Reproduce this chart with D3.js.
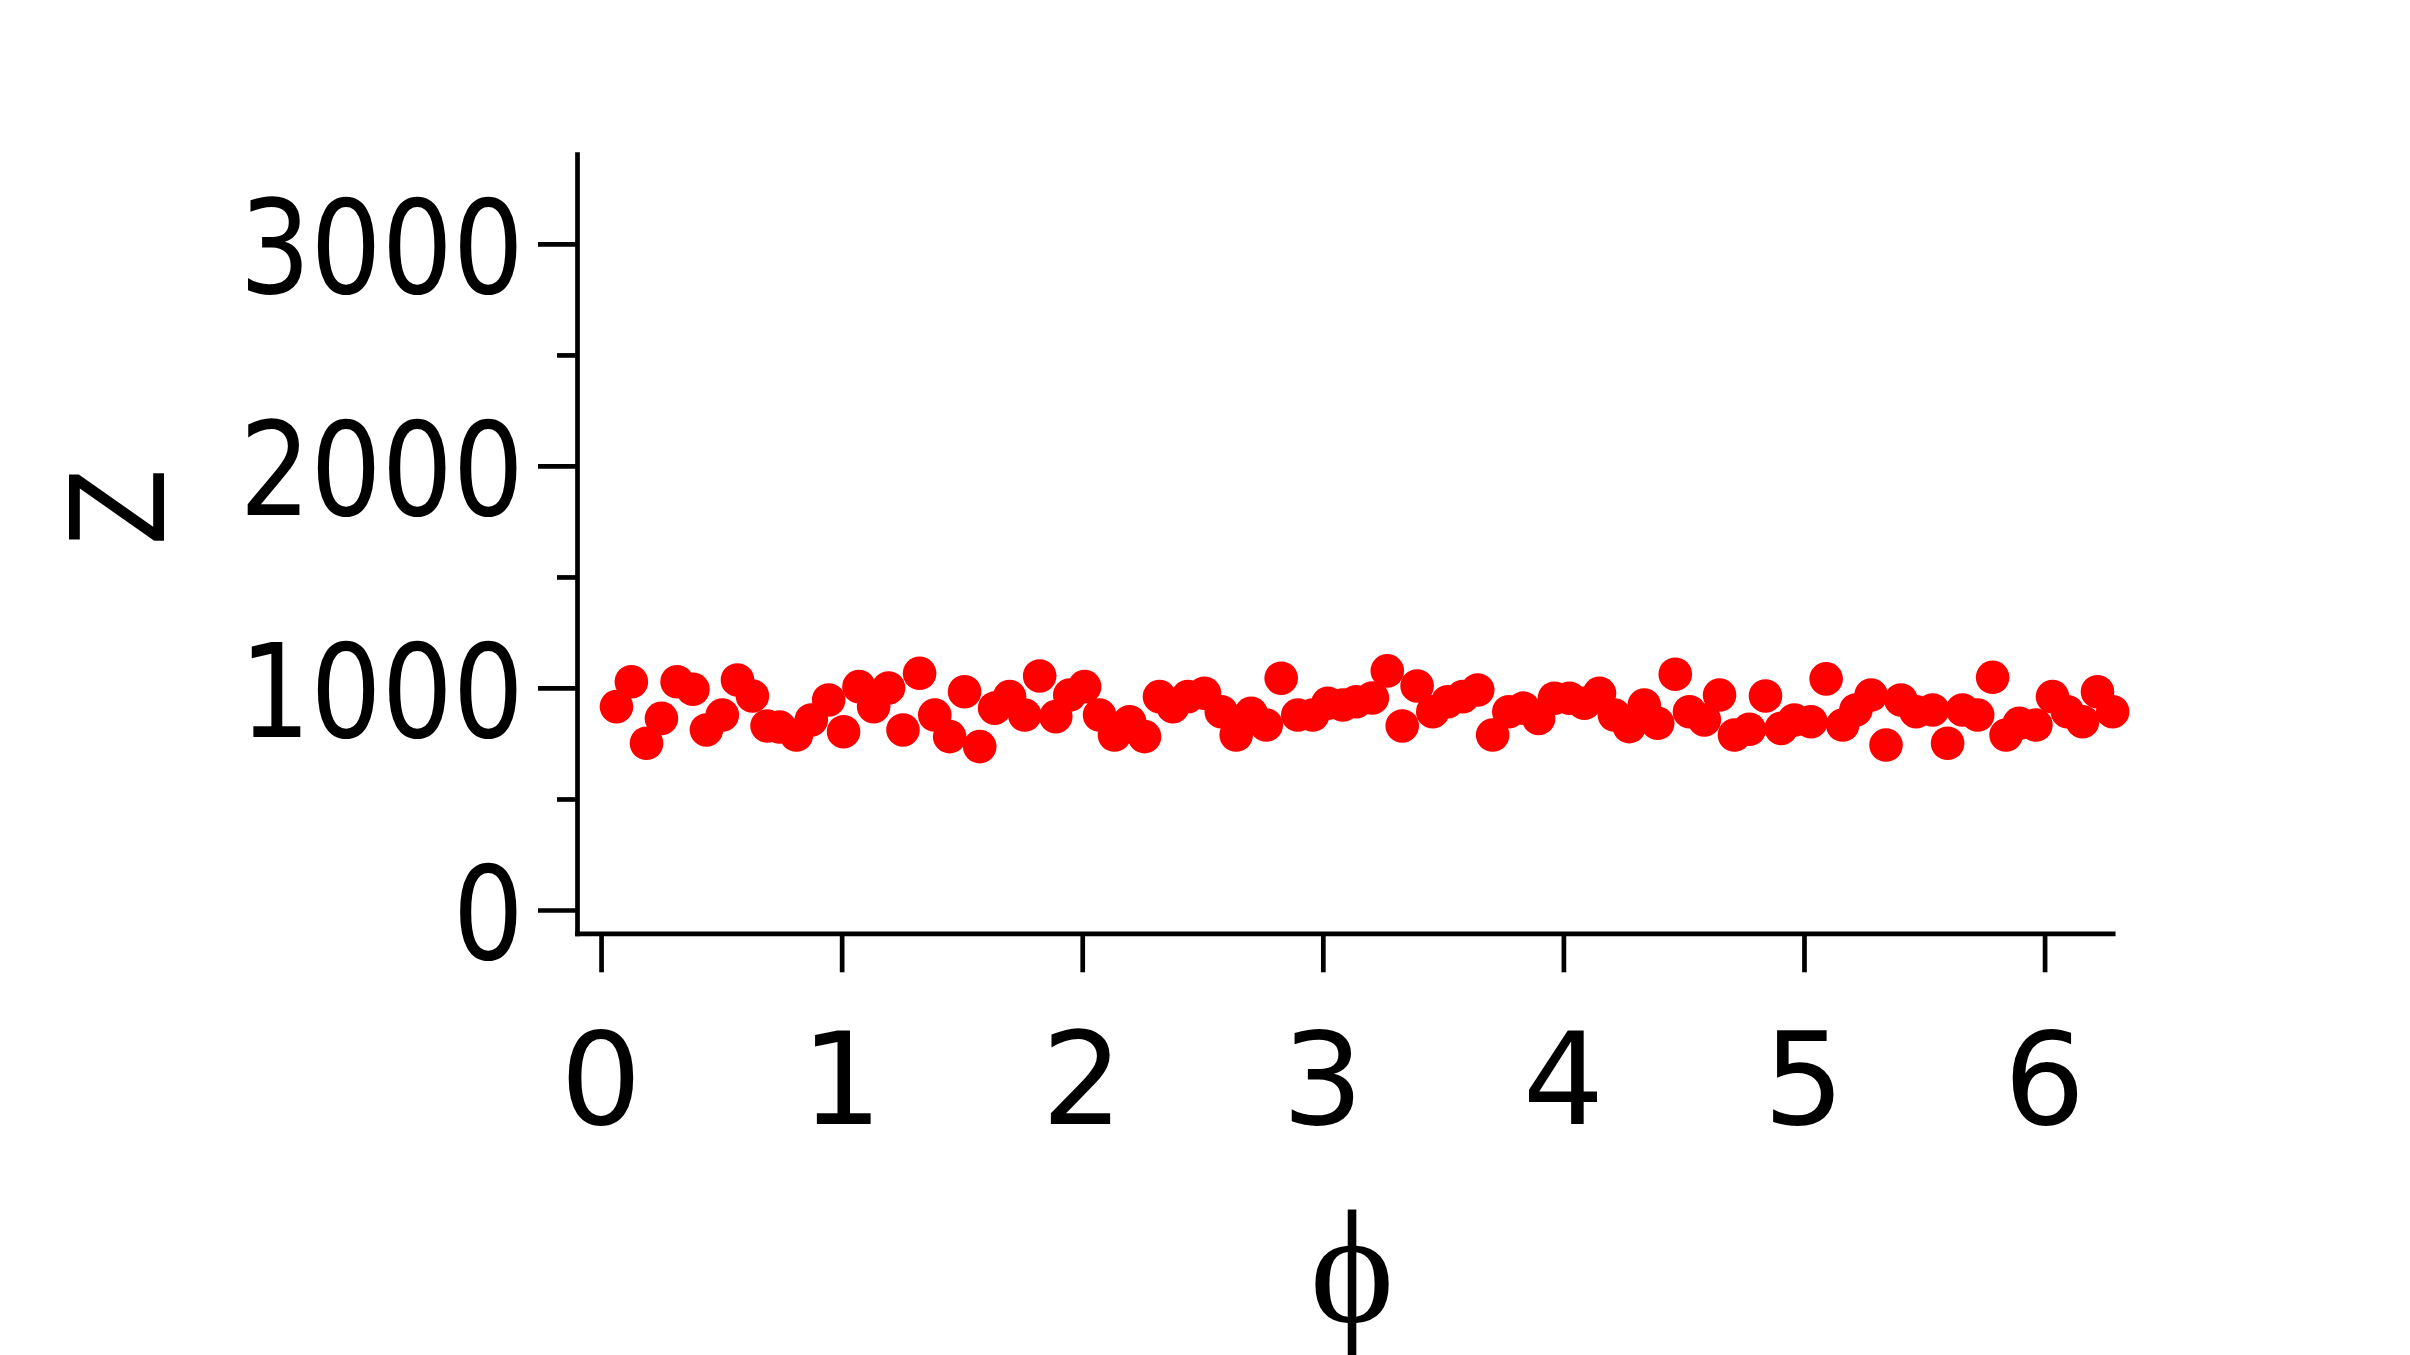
<!DOCTYPE html>
<html>
<head>
<meta charset="utf-8">
<script src="https://cdn.jsdelivr.net/npm/d3@7"></script>
<style>
  html, body { margin: 0; padding: 0; background: #ffffff; }
  svg { display: block; }
</style>
</head>
<body>
<script>
// ---- data ----
const phiValues = [
  0.064, 0.126, 0.189, 0.251, 0.316, 0.382, 0.438, 0.504, 0.567, 0.629,
  0.690, 0.742, 0.812, 0.874, 0.946, 1.008, 1.072, 1.133, 1.195, 1.255,
  1.324, 1.387, 1.449, 1.511, 1.574, 1.636, 1.698, 1.761, 1.823, 1.890,
  1.948, 2.010, 2.072, 2.134, 2.197, 2.259, 2.321, 2.377, 2.439, 2.508,
  2.578, 2.640, 2.702, 2.765, 2.827, 2.896, 2.958, 3.021, 3.083, 3.139,
  3.206, 3.268, 3.330, 3.392, 3.457, 3.519, 3.582, 3.644, 3.706, 3.773,
  3.834, 3.897, 3.963, 4.025, 4.087, 4.150, 4.212, 4.274, 4.336, 4.392,
  4.465, 4.524, 4.586, 4.649, 4.711, 4.773, 4.840, 4.905, 4.960, 5.029,
  5.092, 5.161, 5.216, 5.279, 5.341, 5.403, 5.466, 5.535, 5.597, 5.659,
  5.722, 5.784, 5.840, 5.895, 5.964, 6.033, 6.095, 6.158, 6.220, 6.283
];
const zValues = [
  916, 1028, 751, 863, 1028, 994, 811, 878, 1036, 964,
  829, 824, 788, 856, 946, 803, 1006, 916, 1000, 811,
  1066, 878, 781, 983, 736, 909, 961, 878, 1054, 871,
  968, 1006, 878, 788, 848, 781, 961, 916, 961, 976,
  893, 788, 886, 833, 1044, 878, 878, 931, 923, 938,
  955, 1077, 829, 1009, 893, 938, 961, 991, 788, 893,
  909, 863, 954, 954, 931, 976, 878, 826, 923, 841,
  1062, 893, 856, 968, 788, 814, 964, 818, 856, 848,
  1041, 833, 901, 968, 743, 946, 893, 901, 751, 901,
  878, 1048, 788, 841, 833, 961, 893, 848, 983, 893
];
const xTickValues = [0, 1, 2, 3, 4, 5, 6];
const xTickLabels = ["0", "1", "2", "3", "4", "5", "6"];
const yTickValues = [0, 1000, 2000, 3000];
const yTickLabels = ["0", "1000", "2000", "3000"];
const yMinorTickValues = [500, 1500, 2500];
const xLabel = "\u03D5";
const yLabel = "Z";

// ---- layout ----
const W = 2410, H = 1355;
const plotLeft = 577, plotRight = 2112.7, plotTop = 154, plotBottom = 933.3;

const svg = d3.select("body").append("svg")
  .attr("width", W).attr("height", H)
  .attr("viewBox", `0 0 ${W} ${H}`);

const x = d3.scaleLinear().domain([-0.1, 2 * Math.PI]).range([plotLeft, plotRight]);
const y = d3.scaleLinear().domain([-105, 3405]).range([plotBottom, plotTop]);

// points
const pts = phiValues.map((p, i) => ({ p, z: zValues[i] }));
svg.append("g").selectAll("circle").data(pts).join("circle")
  .attr("cx", d => x(d.p))
  .attr("cy", d => y(d.z))
  .attr("r", 16.8)
  .attr("fill", "#ff0000");

const axisStroke = 4.7;

// y axis major
const yAxisG = svg.append("g").attr("transform", `translate(${plotLeft},0)`)
  .call(d3.axisLeft(y).tickValues(yTickValues).tickSize(39).tickSizeOuter(0).tickFormat(() => ""));
// y axis minor
const yMinorG = svg.append("g").attr("transform", `translate(${plotLeft},0)`)
  .call(d3.axisLeft(y).tickValues(yMinorTickValues).tickSize(20).tickSizeOuter(0).tickFormat(() => ""));
yMinorG.select(".domain").remove();

// x axis
const xAxisG = svg.append("g").attr("transform", `translate(0,${plotBottom})`)
  .call(d3.axisBottom(x).tickValues(xTickValues).tickSize(39).tickSizeOuter(0).tickFormat(() => ""));

[yAxisG, yMinorG, xAxisG].forEach(g => {
  g.selectAll(".domain").attr("stroke", "#000").attr("stroke-width", axisStroke).attr("stroke-linecap", "square");
  g.selectAll(".tick line").attr("stroke", "#000").attr("stroke-width", axisStroke);
});

// x tick labels
svg.append("g").selectAll("text").data(xTickValues).join("text")
  .attr("x", d => x(d))
  .attr("y", 1124)
  .attr("text-anchor", "middle")
  .attr("font-family", "DejaVu Sans")
  .attr("font-size", 128)
  .attr("fill", "#000")
  .text((d, i) => xTickLabels[i]);

// y tick labels (horizontally condensed as in reference)
svg.append("g").selectAll("text").data(yTickValues).join("text")
  .attr("transform", d => `translate(524,${y(d) + 49}) scale(0.86,1)`)
  .attr("text-anchor", "end")
  .attr("font-family", "DejaVu Sans")
  .attr("font-size", 130)
  .attr("fill", "#000")
  .text((d, i) => yTickLabels[i]);

// y label
svg.append("text")
  .attr("transform", `translate(164,507) rotate(-90) scale(0.87,1)`)
  .attr("text-anchor", "middle")
  .attr("font-family", "DejaVu Sans")
  .attr("font-size", 130)
  .attr("fill", "#000")
  .text(yLabel);

// x label
svg.append("text")
  .attr("x", 1352)
  .attr("y", 1322)
  .attr("text-anchor", "middle")
  .attr("font-family", "'Liberation Serif', 'DejaVu Serif', serif")
  .attr("font-size", 160)
  .attr("fill", "#000")
  .text(xLabel);
</script>
</body>
</html>
